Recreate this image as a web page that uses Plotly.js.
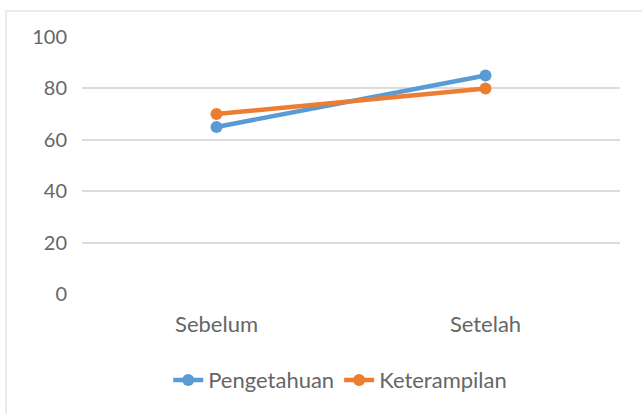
<!DOCTYPE html>
<html>
<head>
<meta charset="utf-8">
<script src="https://cdn.plot.ly/plotly-3.0.1.min.js"></script>
<style>
  html, body { margin: 0; padding: 0; background: #fff; }
  #wrap { position: relative; width: 642px; height: 414px; overflow: hidden; }
  #frame { position: absolute; left: 5px; top: 10px; width: 700px; height: 500px;
           border-left: 2px solid #ebebeb; border-top: 2px solid #ebebeb; pointer-events: none; }
  #chart { position: absolute; left: 0; top: 0; width: 642px; height: 414px; }
</style>
</head>
<body>
<div id="wrap">
  <div id="chart"></div>
  <div id="frame"></div>
</div>
<script>
const categories = ["Sebelum", "Setelah"];
const pengetahuan = [65, 85];
const keterampilan = [70, 80];
const yTicks = [0, 20, 40, 60, 80, 100];

const fontFam = "Lato, 'Open Sans', sans-serif";
const txt = "#666666";

const traces = [
  {
    x: categories, y: pengetahuan, name: "Pengetahuan", type: "scatter", mode: "lines+markers",
    line: { color: "#5B9BD5", width: 4.5 },
    marker: { color: "#5B9BD5", size: 12, symbol: "circle" }
  },
  {
    x: categories, y: keterampilan, name: "Keterampilan", type: "scatter", mode: "lines+markers",
    line: { color: "#ED7D31", width: 4.5 },
    marker: { color: "#ED7D31", size: 12, symbol: "circle" }
  }
];

const layout = {
  width: 642, height: 414,
  margin: { l: 82, r: 22, t: 37, b: 120 },
  paper_bgcolor: "rgba(0,0,0,0)",
  plot_bgcolor: "#fff",
  font: { family: fontFam, color: txt, size: 20 },
  showlegend: true,
  legend: {
    orientation: "h", x: 0.48, xanchor: "center", y: -0.335, yanchor: "middle",
    font: { family: fontFam, color: txt, size: 22 },
    traceorder: "normal"
  },
  xaxis: {
    type: "category", range: [-0.5, 1.5],
    showgrid: false, zeroline: false, showline: false,
    ticks: "", ticklabelstandoff: 15,
    tickfont: { family: fontFam, color: txt, size: 22 },
    fixedrange: true
  },
  yaxis: {
    range: [0, 100], tickvals: yTicks, ticktext: yTicks.map(String),
    showgrid: true, gridcolor: "#dcdcdc", gridwidth: 2,
    zeroline: false, showline: false, ticks: "", ticklabelstandoff: 14,
    tickfont: { family: fontFam, color: txt, size: 20 },
    fixedrange: true
  }
};

Plotly.newPlot("chart", traces, layout, { displayModeBar: false, staticPlot: true });
</script>
</body>
</html>
